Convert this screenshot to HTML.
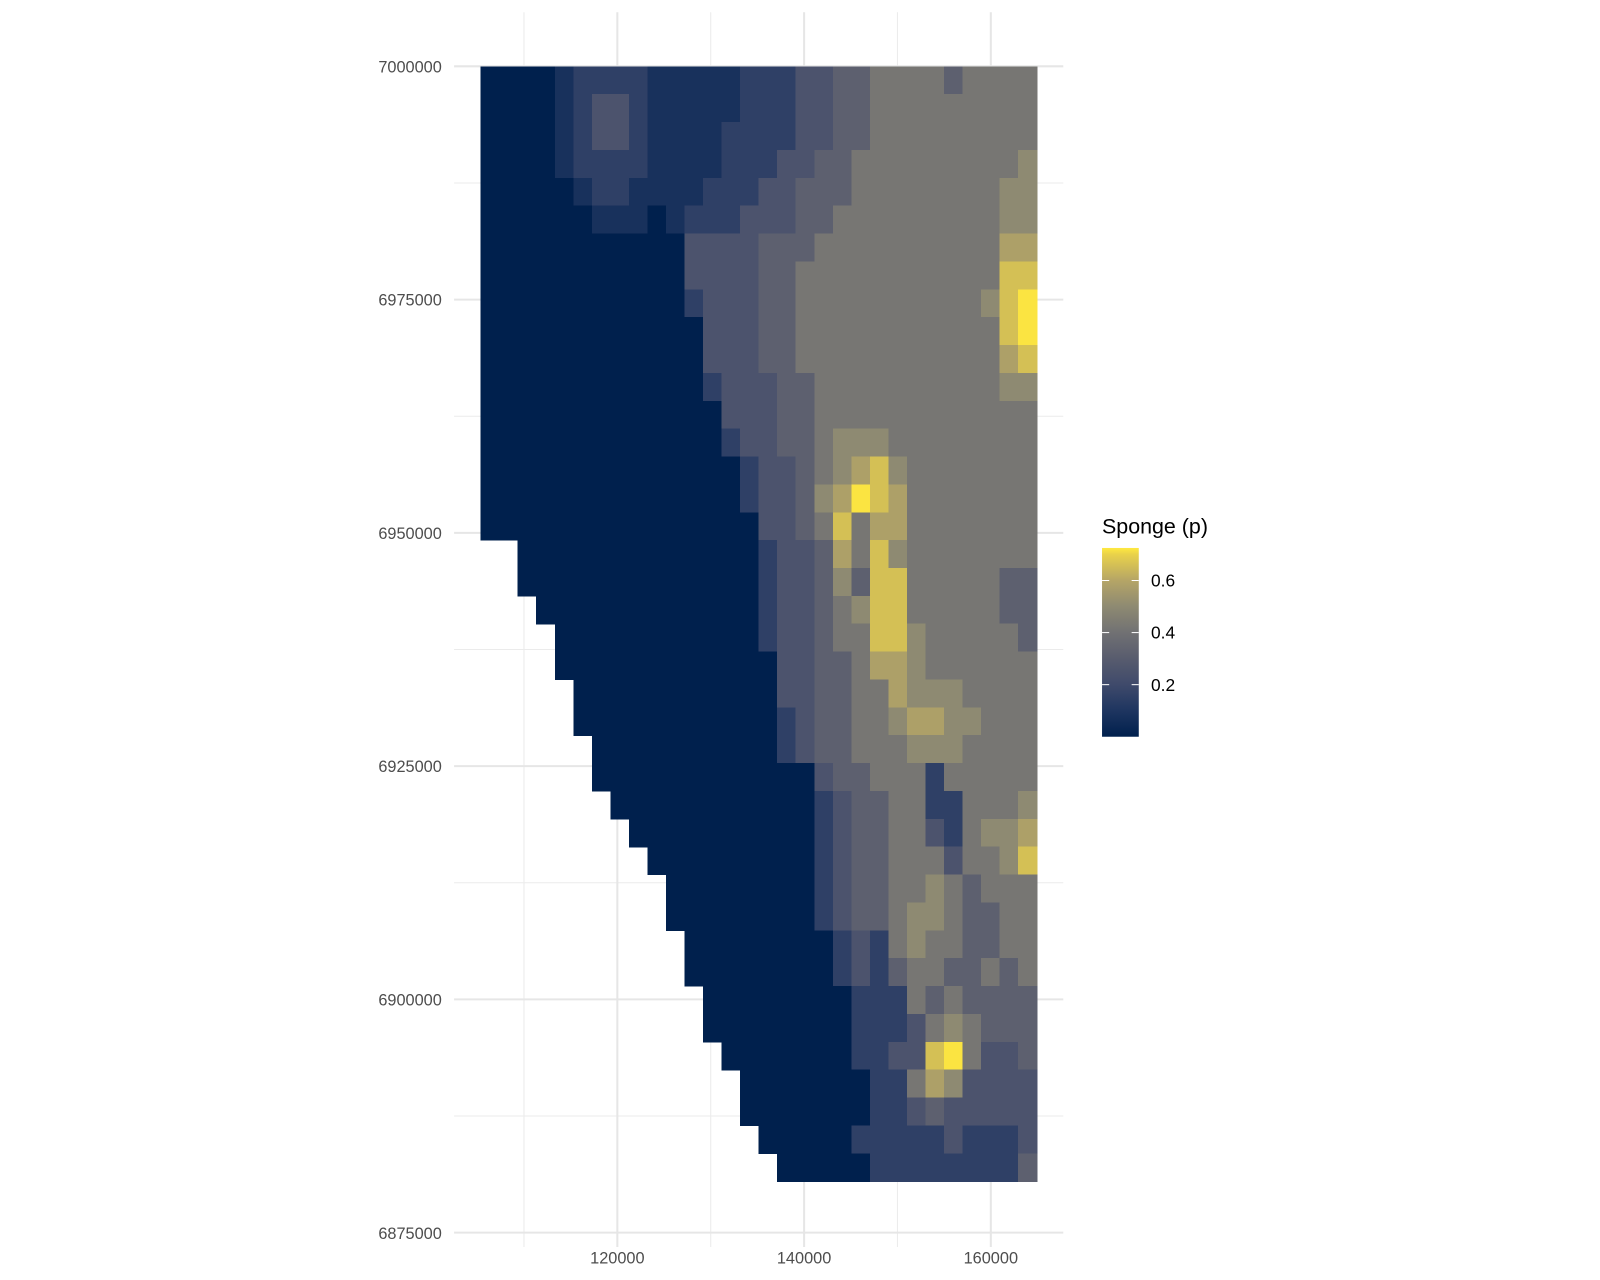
<!DOCTYPE html>
<html><head><meta charset="utf-8">
<style>
html,body{margin:0;padding:0;background:#fff;}
svg{display:block;font-family:"Liberation Sans",Arial,sans-serif;}
</style></head>
<body>
<svg id="chart" width="1600" height="1280" viewBox="0 0 1568 1254.4" xmlns="http://www.w3.org/2000/svg">
<defs>
<linearGradient id="legendGrad" x1="0" y1="1" x2="0" y2="0">
<stop offset="0" stop-color="#00204D"/>
<stop offset="0.138" stop-color="#1E3560"/>
<stop offset="0.276" stop-color="#3F4A6B"/>
<stop offset="0.414" stop-color="#585C6E"/>
<stop offset="0.552" stop-color="#717173"/>
<stop offset="0.69" stop-color="#8E8A72"/>
<stop offset="0.828" stop-color="#B5A566"/>
<stop offset="0.966" stop-color="#E9D24A"/>
<stop offset="1" stop-color="#FFE93F"/>
</linearGradient>
</defs>
<g id="grid"></g>
<g id="raster" shape-rendering="crispEdges"></g>
<g id="axes"></g>
<g id="legend">
<text x="1080" y="523" font-size="21" fill="#000">Sponge (p)</text>
<rect x="1080" y="537" width="36" height="185" fill="url(#legendGrad)"/>
</g>
</svg>
<script>
// ---- data ----
const xTicks = [120000, 140000, 160000];
const xMinor = [110000, 130000, 150000];
const yTicks = [6875000, 6900000, 6925000, 6950000, 6975000, 7000000];
const yMinor = [6887500, 6912500, 6937500, 6962500, 6987500];
const legendTicks = [0.2, 0.4, 0.6];
const rasterX = [105355, 164918];
const rasterY = [6880520, 7000000];
// digit code -> probability level ('.' = no data)
const levels = [0, 0.08, 0.15, 0.25, 0.32, 0.42, 0.50, 0.58, 0.66, 0.72];
const gridRows = [
"000012222111112223344555545555",
"000012332111112223344555555555",
"000012332111122223344555555555",
"000012222111122233445555555556",
"000001221111222334445555555566",
"000000111012223334455555555566",
"000000000003333444555555555577",
"000000000003333445555555555588",
"000000000002333445555555555689",
"000000000000333445555555555589",
"000000000000333445555555555578",
"000000000000233344555555555566",
"000000000000033344555555555555",
"000000000000023344566655555555",
"000000000000002334567865555555",
"000000000000002334679875555555",
"000000000000000334585775555555",
"..0000000000000233475865555555",
"..0000000000000233464885555544",
"...000000000000233456885555544",
"....00000000000233455886555554",
"....00000000000033445776555555",
".....0000000000033445576665555",
".....0000000000023445567766555",
"......000000000023445556665555",
"......000000000000344555255555",
".......00000000000234455225556",
"........0000000000234455325667",
".........000000000234455535568",
"..........00000000234455654555",
"..........00000000234456654455",
"...........0000000023256554455",
"...........0000000023245544545",
"............000000002225454444",
"............000000002223565444",
".............00000002233895334",
"..............0000000225763333",
"..............0000000223433333",
"...............000002222232223",
"................00000222222224"
];
// ---- scales ----
const colorStops = [[0,"#00204D"],[0.1,"#1E3560"],[0.2,"#3F4A6B"],[0.3,"#585C6E"],[0.4,"#717173"],[0.5,"#8E8A72"],[0.6,"#B5A566"],[0.7,"#E9D24A"],[0.725,"#FFE93F"]];
function xScale(v){ return 605 + (v - 120000) * (183 / 20000); }
function yScale(v){ return 65 + (7000000 - v) * (228.6 / 25000); }
function hex(c){ return [parseInt(c.slice(1,3),16),parseInt(c.slice(3,5),16),parseInt(c.slice(5,7),16)]; }
function color(v){
  if (v <= colorStops[0][0]) return colorStops[0][1];
  for (let i=1;i<colorStops.length;i++){
    if (v <= colorStops[i][0]){
      const a=colorStops[i-1], b=colorStops[i];
      const t=(v-a[0])/(b[0]-a[0]); const ca=hex(a[1]), cb=hex(b[1]);
      return "rgb("+ca.map((x,k)=>Math.round(x+(cb[k]-x)*t)).join(",")+")";
    }
  }
  return colorStops[colorStops.length-1][1];
}
const NS="http://www.w3.org/2000/svg";
function mk(tag, attrs, parent){ const e=document.createElementNS(NS,tag); for(const k in attrs) e.setAttribute(k,attrs[k]); parent.appendChild(e); return e; }
// ---- grid ----
const grid=document.getElementById('grid');
const px0=445, px1=1042, py0=12, py1=1222;
xMinor.forEach(v=>{ const l=mk('line',{x1:xScale(v),x2:xScale(v),y1:py0,y2:py1,stroke:'#ebebeb','stroke-width':1},grid);

 });
yMinor.forEach(v=>{ const l=mk('line',{x1:px0,x2:px1,y1:yScale(v),y2:yScale(v),stroke:'#ebebeb','stroke-width':1},grid);

 });
xTicks.forEach(v=>{ const l=mk('line',{x1:xScale(v),x2:xScale(v),y1:py0,y2:py1,stroke:'#e6e6e6','stroke-width':2},grid);

 });
yTicks.forEach(v=>{ const l=mk('line',{x1:px0,x2:px1,y1:yScale(v),y2:yScale(v),stroke:'#e6e6e6','stroke-width':2},grid);

 });
// ---- raster ----
const raster=document.getElementById('raster');
const nRows=gridRows.length, nCols=gridRows[0].length;
const cw=(rasterX[1]-rasterX[0])/nCols, ch=(rasterY[1]-rasterY[0])/nRows;
for(let r=0;r<nRows;r++){
  for(let c=0;c<nCols;c++){
    const code=gridRows[r][c];
    if(code==='.') continue;
    const v=levels[+code];
    const x0=xScale(rasterX[0]+c*cw), x1=xScale(rasterX[0]+(c+1)*cw);
    const y0=yScale(rasterY[1]-r*ch), y1=yScale(rasterY[1]-(r+1)*ch);
    const rect=mk('rect',{x:x0.toFixed(2),y:y0.toFixed(2),width:(x1-x0+0.6).toFixed(2),height:(y1-y0+0.6).toFixed(2),fill:color(v)},raster);
    
    
  }
}
// ---- axes labels ----
const axes=document.getElementById('axes');
xTicks.forEach(v=>{ const t=mk('text',{x:xScale(v),y:1238,'text-anchor':'middle','font-size':16,fill:'#4d4d4d'},axes); t.textContent=v;

 });
yTicks.forEach(v=>{ const t=mk('text',{x:433,y:yScale(v)+6,'text-anchor':'end','font-size':16,fill:'#4d4d4d'},axes); t.textContent=v;

 });
// ---- legend ticks ----
const legend=document.getElementById('legend');
function ly(v){ return 722 - (v/0.725)*185; }
legendTicks.forEach(v=>{
  const a=mk('line',{x1:1080,x2:1087,y1:ly(v),y2:ly(v),stroke:'#fff','stroke-width':1},legend);
  
  
  const b=mk('line',{x1:1109,x2:1116,y1:ly(v),y2:ly(v),stroke:'#fff','stroke-width':1},legend);
  
  
  const t=mk('text',{x:1128,y:ly(v)+6,'font-size':17,fill:'#000'},legend); t.textContent=v.toFixed(1);
  
  
});
</script>
</body></html>
